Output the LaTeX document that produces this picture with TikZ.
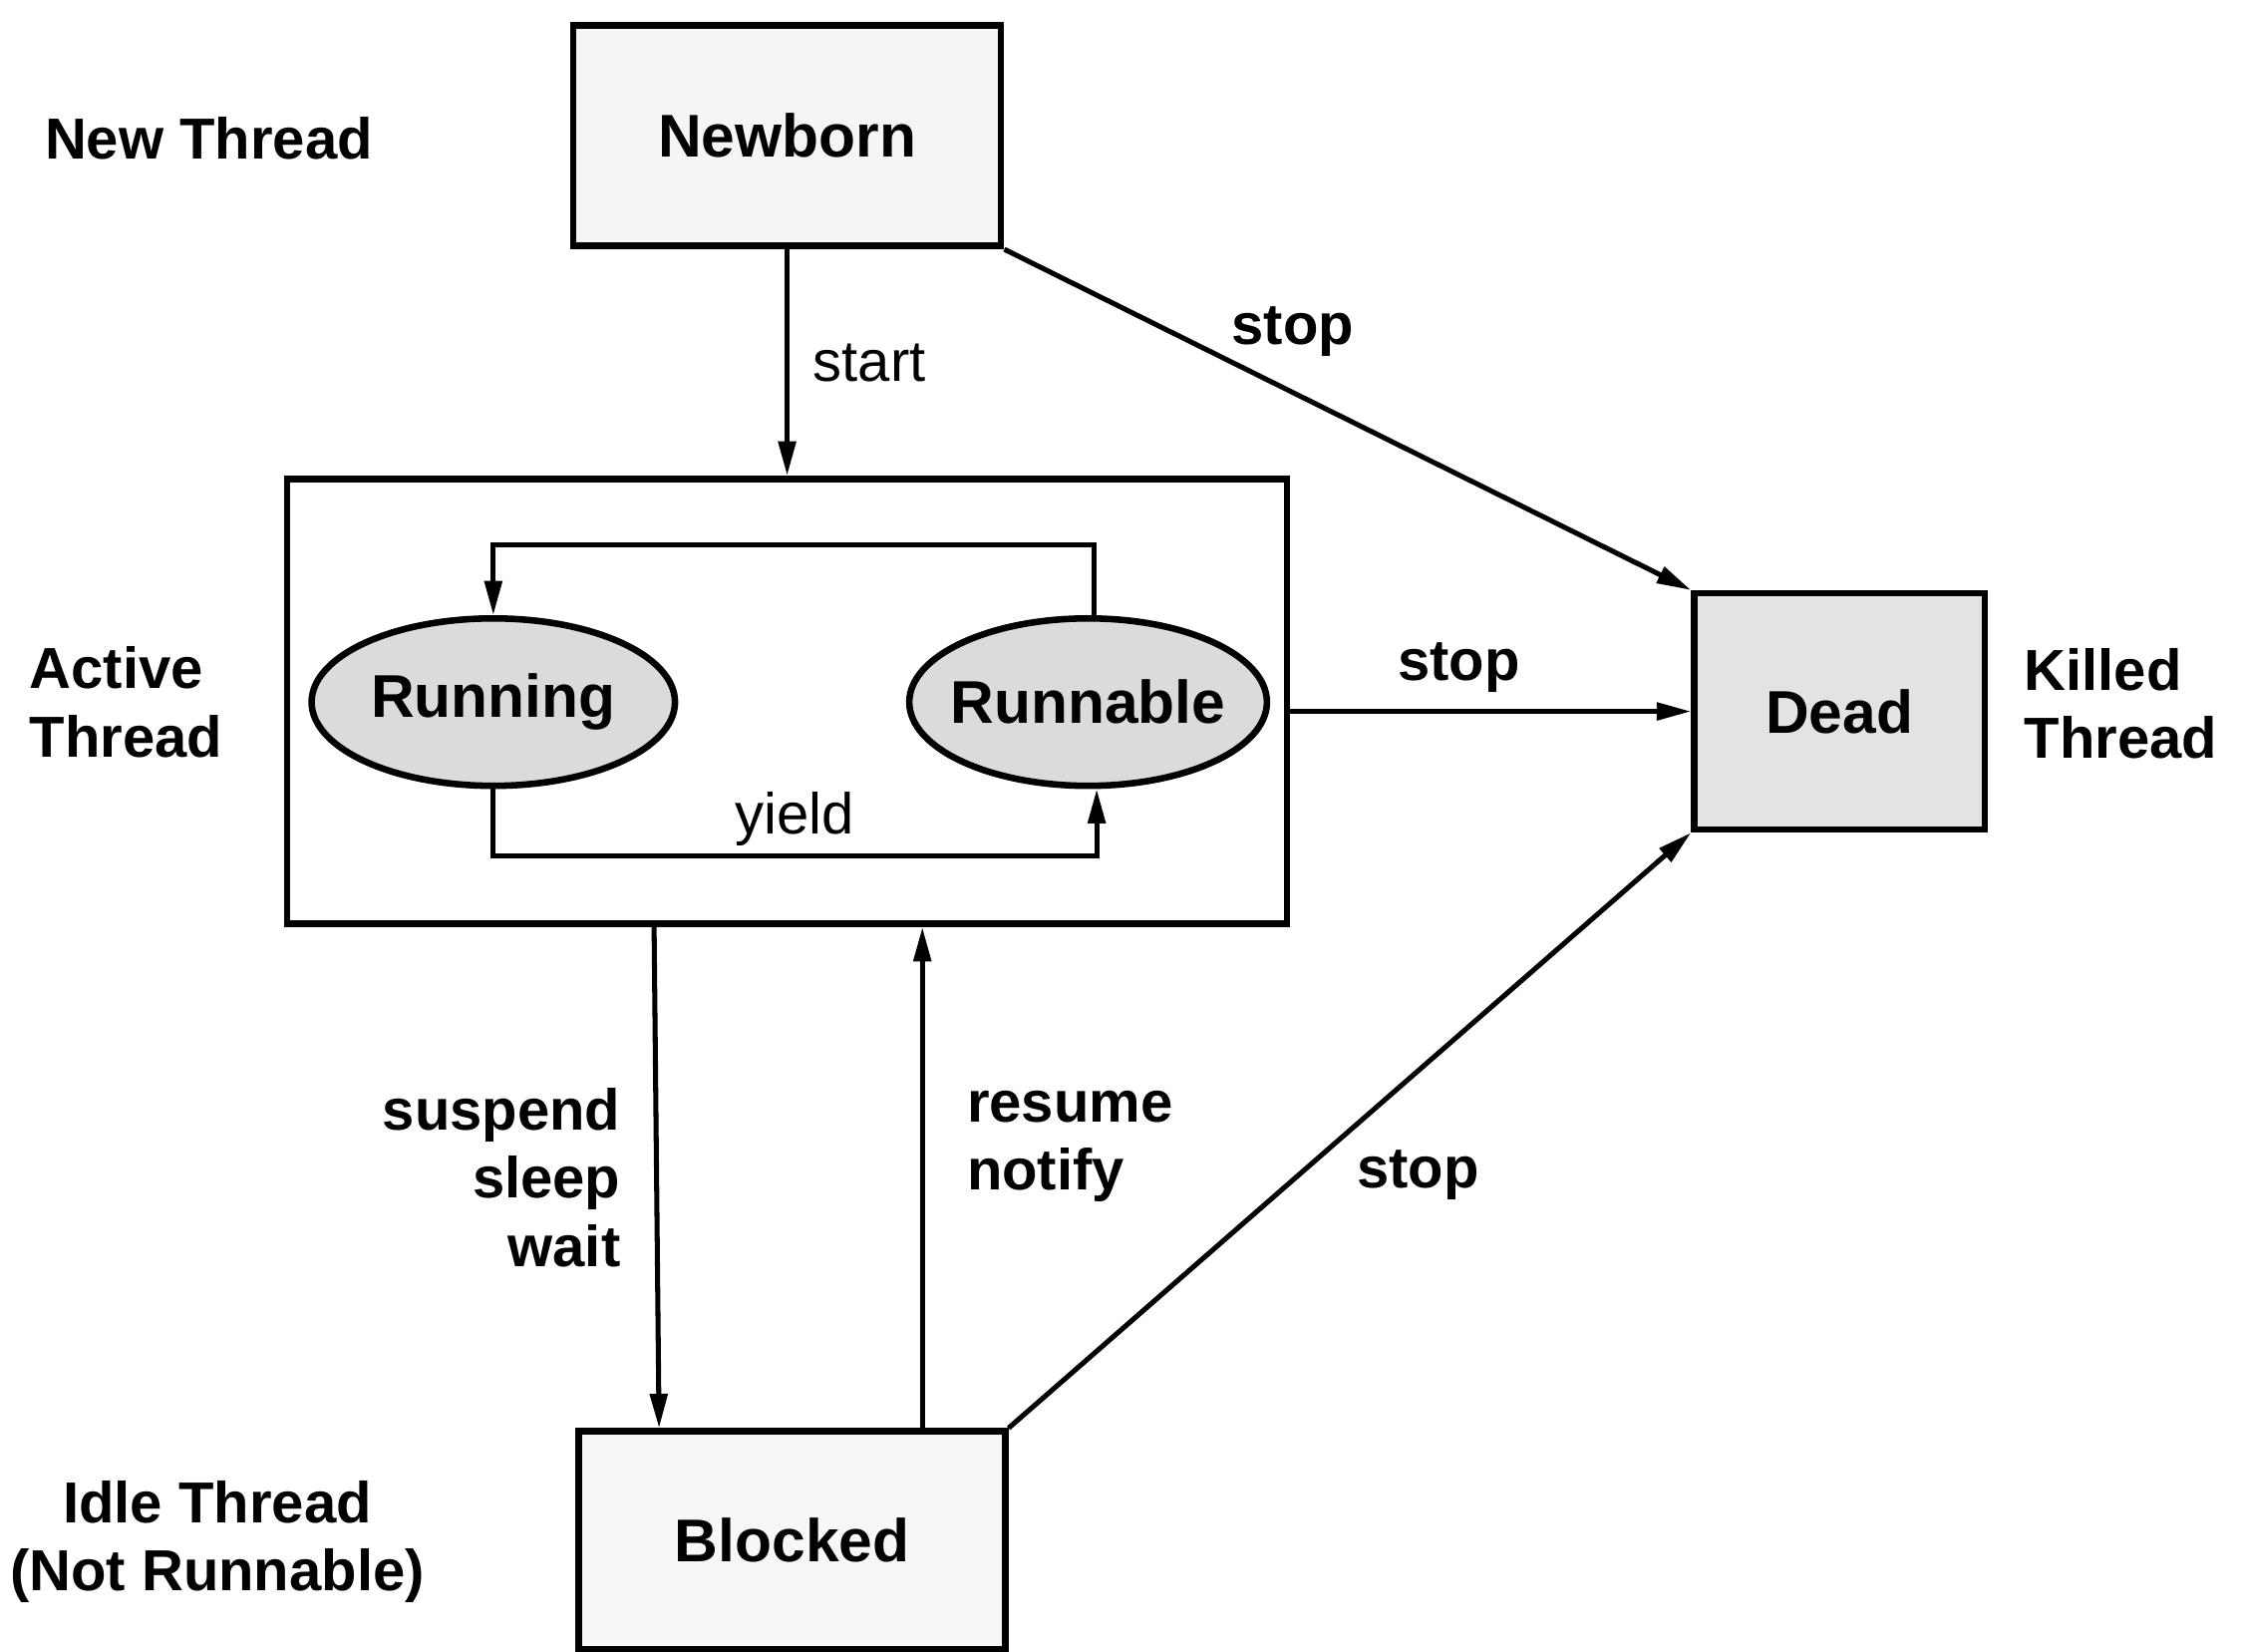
\documentclass[tikz,border=0pt]{standalone}
\usepackage{fontspec}
\setmainfont{Liberation Sans}
\usetikzlibrary{arrows.meta,shapes.geometric}
\begin{document}
\begin{tikzpicture}[x=0.01cm,y=-0.01cm,
  statebox/.style={draw,line width=1.3pt,rectangle,inner sep=0pt,font=\fontsize{12}{14}\selectfont\bfseries},
  stateell/.style={draw,line width=1.3pt,ellipse,inner sep=0pt,fill=gray!28,font=\fontsize{12}{14}\selectfont\bfseries},
  arr/.style={line width=1pt,-{Triangle[length=0.24cm,width=0.12cm]}},
  lbl/.style={font=\fontsize{11.5}{13.5}\selectfont\bfseries,inner sep=1pt},
  lbllight/.style={font=\fontsize{11.5}{13.5}\selectfont,inner sep=1pt},
  side/.style={font=\fontsize{11.5}{13.5}\selectfont\bfseries,inner sep=0pt}
]
\useasboundingbox (0,0) rectangle (1568,1155);
% state boxes
\node[statebox,fill=gray!8,minimum width=2.99cm,minimum height=1.54cm] (newborn) at (550.5,95) {Newborn};
\node[draw,line width=1.3pt,rectangle,inner sep=0pt,minimum width=6.99cm,minimum height=3.11cm] (active) at (550.5,490.5) {};
\node[stateell,minimum width=2.54cm,minimum height=1.17cm] (running) at (345,491) {\makebox[0pt]{Running}};
\node[stateell,minimum width=2.50cm,minimum height=1.17cm] (runnable) at (761,491) {\makebox[0pt]{Runnable}};
\node[statebox,fill=gray!22,minimum width=2.03cm,minimum height=1.65cm] (dead) at (1286.5,497.5) {Dead};
\node[statebox,fill=gray!6,minimum width=2.98cm,minimum height=1.52cm] (blocked) at (554,1077) {Blocked};
% side labels
\node[side] (newthread) at (146,97) {New Thread};
\node[side,align=left,anchor=west] (activethread) at (20,491) {Active\\Thread};
\node[side,align=left,anchor=west] (killedthread) at (1415,492) {Killed\\Thread};
\node[side,align=center] (idlethread) at (152,1078) {Idle Thread\\(Not Runnable)};
% connectors
\draw[arr] (newborn.south) -- node[midway,right=0.13cm,lbllight] {start} (newborn.south |- active.north);
\draw[arr] (newborn.south east) -- node[pos=0.42,above=0.2cm,lbl] {stop} (dead.north west);
\draw[arr] (active.east |- dead.west) -- node[pos=0.42,above=0.08cm,lbl] {stop} (dead.west);
\draw[arr] (blocked.north east) -- node[pos=0.6,below=0.5cm,lbl] {stop} (dead.south west);
\draw[arr] ([xshift=0.04cm]runnable.north) -- ++(0,-49) -| (running.north);
\draw[arr] (running.south) -- ++(0,47) -| node[pos=0.25,above=0.02cm,lbllight] {yield} ([xshift=0.06cm]runnable.south);
\draw[arr] ([xshift=-0.93cm]active.south) -- node[midway,left=0.2cm,lbl,align=right] {suspend\\sleep\\wait} ([xshift=-0.93cm]blocked.north);
\draw[arr] ([xshift=0.91cm]blocked.north) -- node[midway,right=0.26cm,yshift=0.22cm,lbl,align=left] {resume\\notify} ([xshift=0.91cm]blocked.north |- active.south);
\end{tikzpicture}
\end{document}
